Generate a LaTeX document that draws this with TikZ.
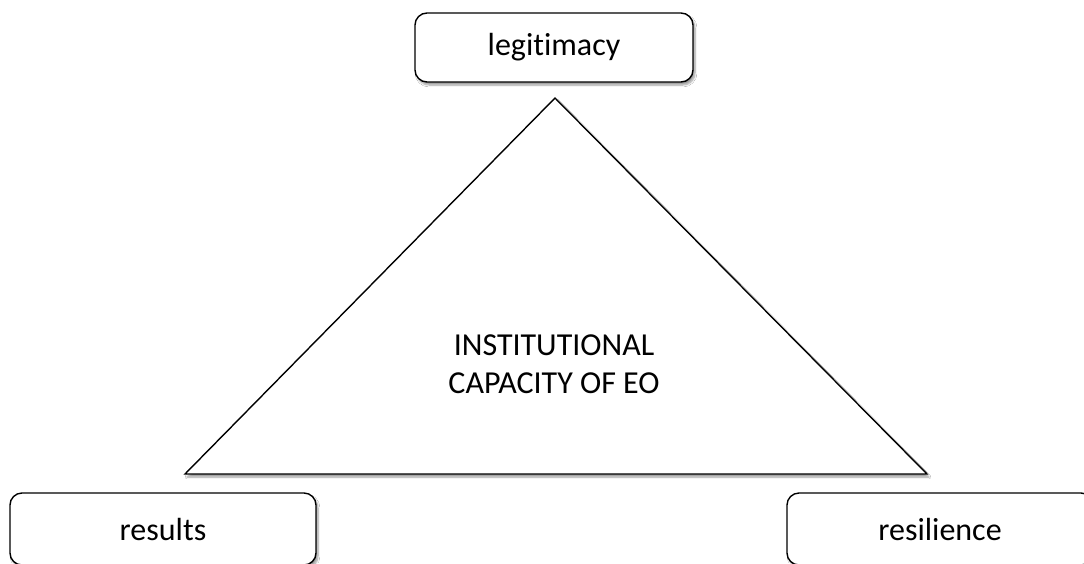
\documentclass[tikz,border=0pt]{standalone}
\usepackage{fontspec}
\setmainfont[Ligatures=NoCommon]{Carlito}
\usepackage{tikz}
\usetikzlibrary{positioning,shadows.blur}

\begin{document}
\begin{tikzpicture}[x=1pt, y=-1pt,
    soft/.style={blur shadow={shadow xshift=2pt, shadow yshift=-3pt, shadow blur steps=6, shadow opacity=40}},
    pillar/.style={rectangle, rounded corners=12pt, draw=black, line width=1.4pt,
                   fill=white, font=\fontsize{32}{38}\selectfont, soft},
    core/.style={font=\fontsize{32}{38}\selectfont, align=center}
  ]
  \clip (0,0) rectangle (1084,563);
  \fill[white] (0,0) rectangle (1084,563);

  \coordinate (apex)  at (555, 98);
  \coordinate (left)  at (185,474);
  \coordinate (right) at (927,474);
  \draw[line width=1.4pt, line join=miter, fill=white, soft]
    (apex) -- (right) -- (left) -- cycle;

  \node[pillar, minimum width=278pt, minimum height=69pt] (legit) at (554, 47.5) {legitimacy};
  \node[pillar, minimum width=306pt, minimum height=72pt] (res)   at (163, 529)  {results};
  \node[pillar, minimum width=306pt, minimum height=72pt] (resil) at (940, 529)  {resilience};

  \node[core] (inst) at (554, 364) {INSTITUTIONAL\\CAPACITY OF EO};
\end{tikzpicture}
\end{document}
